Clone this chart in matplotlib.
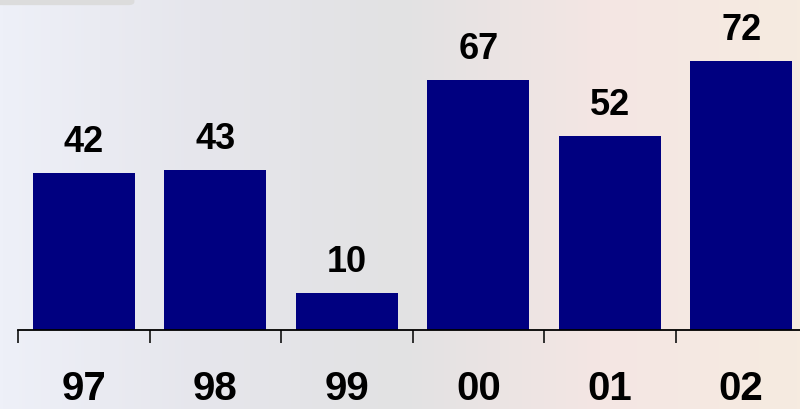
import matplotlib
matplotlib.use("Agg")
import matplotlib.pyplot as plt
import numpy as np
from matplotlib.colors import LinearSegmentedColormap
from matplotlib.patches import FancyBboxPatch

years = ["97", "98", "99", "00", "01", "02"]
values = [42, 43, 10, 67, 52, 72]

plt.rcParams["font.family"] = ["Liberation Sans", "DejaVu Sans"]
plt.rcParams["font.weight"] = "bold"

fig = plt.figure(figsize=(8, 4.1), dpi=100)

# faded photo-like backdrop, approximated with a soft gradient
bg = fig.add_axes([0, 0, 1, 1], zorder=0)
bg.axis("off")
cmap = LinearSegmentedColormap.from_list(
    "bg", ["#eef0f8", "#e6e6ec", "#e2e2e3", "#f4e6e4", "#f6ebe0"])
grad = np.linspace(0, 1, 256).reshape(1, -1)
bg.imshow(grad, cmap=cmap, aspect="auto", extent=[0, 1, 0, 1])
bg.set_xlim(0, 1)
bg.set_ylim(0, 1)
# small grey strip in the top-left corner
bg.add_patch(FancyBboxPatch((-0.01, 0.985), 0.178, 0.03,
                            boxstyle="round,pad=0,rounding_size=0.008",
                            facecolor="#dcdcdc", edgecolor="none"))

ax = fig.add_axes([18 / 800, 79 / 410, 789 / 800, 298.4 / 410], zorder=1)
ax.patch.set_alpha(0)

x = np.arange(len(years))
bars = ax.bar(x, values, width=0.776, color="#000080", zorder=2)

for xi, v in zip(x, values):
    ax.annotate(str(v), (xi, v), xytext=(0, 15.8), textcoords="offset points",
                ha="center", va="baseline", fontsize=26, fontweight="bold",
                color="black", annotation_clip=False)

ax.set_xlim(-0.5, len(years) - 0.5)
ax.set_ylim(0, 80)

for side in ["top", "right", "left"]:
    ax.spines[side].set_visible(False)
ax.spines["bottom"].set_linewidth(1.3)
ax.spines["bottom"].set_color("black")

ax.set_yticks([])
ax.set_xticks(np.arange(-0.5, len(years)), minor=False)
ax.set_xticklabels([])
ax.tick_params(axis="x", which="major", direction="out", length=9.4,
               width=1.3, color="#222222")
ax.set_xticks(x, minor=True)
ax.set_xticklabels(years, minor=True, fontsize=29, fontweight="bold")
ax.tick_params(axis="x", which="minor", length=0, pad=28)

fig.savefig("out.png", dpi=100)
